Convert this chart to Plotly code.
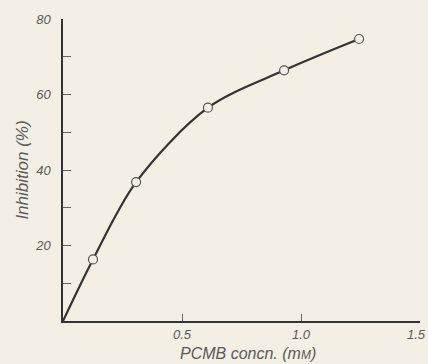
import plotly.graph_objects as go

# PCMB concentration (mM) and measured inhibition (%)
concn = [0.126, 0.307, 0.609, 0.929, 1.244]
inhibition = [16.3, 36.8, 56.5, 66.4, 74.7]

# fitted curve runs from the origin through the measurements
curve_x = [0.0] + concn
curve_y = [0.0] + inhibition

x_ticks = [0.5, 1.0, 1.5]
x_labels = ["0.5", "1.0", ""]   # the last label is placed separately so it stays inside the page
x_end_label = "1.5"
y_ticks = [20, 40, 60, 80]
y_minor = [10, 30, 50, 70]

bg = "#f3efe5"
ink = "#333333"
text_col = "#5a5a5a"
family = "Liberation Sans, DejaVu Sans"

fig = go.Figure()
fig.add_trace(go.Scatter(
    x=curve_x, y=curve_y, mode="lines",
    line=dict(color=ink, width=2.2, shape="spline", smoothing=0.9),
    hoverinfo="skip", showlegend=False,
))
fig.add_trace(go.Scatter(
    x=concn, y=inhibition, mode="markers",
    marker=dict(size=9, color=bg, line=dict(color="#555555", width=1.2)),
    showlegend=False,
))

font = dict(family=family, size=13, color=text_col, style="italic")

fig.update_layout(
    width=428, height=364,
    margin=dict(l=63, r=8, t=19, b=43),
    paper_bgcolor=bg, plot_bgcolor=bg,
    font=font,
    xaxis=dict(
        range=[0, 1.5], showgrid=False, zeroline=False,
        showline=True, linecolor=ink, linewidth=1.5,
        tickvals=x_ticks, ticktext=x_labels,
        ticks="inside", ticklen=7, tickcolor="#666666", tickwidth=1,
        tickfont=font, automargin=False,
        ticklabelstandoff=1,
    ),
    yaxis=dict(
        range=[0, 80], showgrid=False, zeroline=False,
        showline=True, linecolor=ink, linewidth=1.5,
        tickvals=y_ticks, automargin=False,
        ticks="inside", ticklen=8, tickcolor="#666666", tickwidth=1,
        minor=dict(tickvals=y_minor, ticks="inside", ticklen=8,
                   tickcolor="#666666", tickwidth=1),
        tickfont=font, ticklabelstandoff=8,
        title=dict(text="Inhibition (%)",
                   font=dict(family=family, size=17, color=text_col, style="italic"),
                   standoff=2),
    ),
    annotations=[
        dict(
            text="PCMB concn. (m<span style='font-size:12px'>M</span>)",
            xref="paper", yref="paper", x=0.518, y=-0.072,
            xanchor="center", yanchor="top", showarrow=False,
            font=dict(family=family, size=16, color=text_col, style="italic"),
        ),
        dict(
            text=x_end_label, xref="x", yref="paper", x=x_ticks[-1], y=0,
            xanchor="right", yanchor="top", xshift=8, yshift=-4,
            showarrow=False, font=font,
        ),
    ],
)

fig.write_html("out.html")
